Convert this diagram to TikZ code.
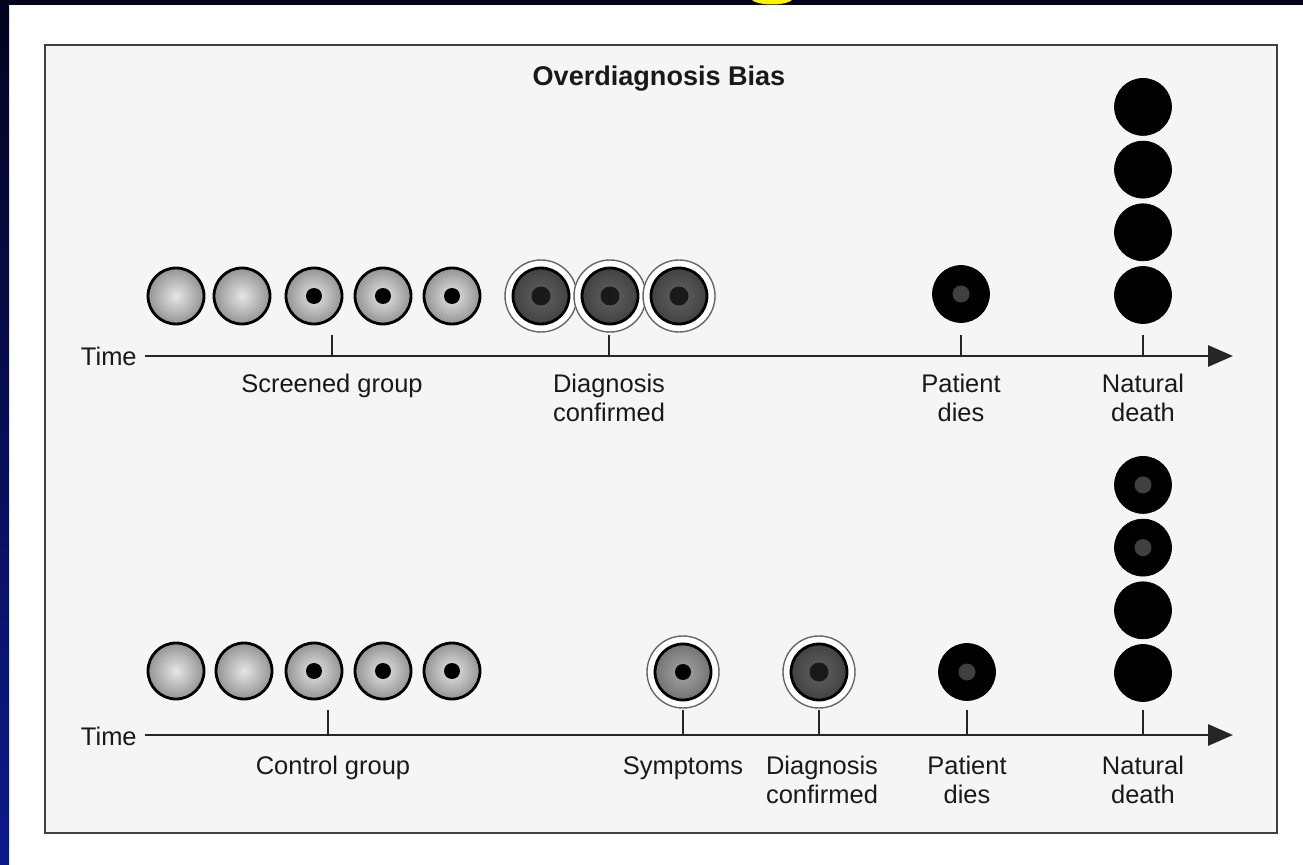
\documentclass[tikz,border=0pt]{standalone}
\usepackage{fontspec}
\setmainfont{Liberation Sans}
\usetikzlibrary{positioning,arrows.meta,backgrounds}

\definecolor{slidenavy}{RGB}{3,3,30}
\definecolor{slideblue}{RGB}{12,26,140}
\definecolor{framefill}{RGB}{245,245,245}
\definecolor{ink}{RGB}{25,25,25}

\begin{document}
\begin{tikzpicture}[
  x=0.02cm, y=-0.02cm,
  font=\fontsize{14.5}{16.5}\selectfont,
  lbl/.style={text=ink, align=center, inner sep=0pt},
  axis/.style={line width=1.7pt, draw=black!85, -{Triangle[length=0.5cm,width=0.42cm]}},
  tick/.style={line width=1.1pt, draw=black!85},
  cell/.style={circle, draw=black, line width=1.6pt, minimum size=1.12cm, inner sep=0pt, inner color=black!10, outer color=black!42},
  nuc/.style={path picture={\fill[black] (path picture bounding box.center) circle (0.16cm);}},
  sick/.style={cell, inner color=black!62, outer color=black!74, path picture={\fill[black!90] (path picture bounding box.center) circle (0.19cm);}},
  sympt/.style={cell, inner color=black!35, outer color=black!55, nuc},
  dead/.style={circle, fill=black, draw=black, minimum size=1.14cm, inner sep=0pt},
  deadnuc/.style={dead, path picture={\fill[black!75] (path picture bounding box.center) circle (0.17cm);}},
  ring/.style={draw=black!60, line width=0.8pt, fill=white},
  frame/.style={draw=black!75, line width=1.1pt, fill=framefill}
]
\useasboundingbox (0,0) rectangle (1303,865);

\node[font=\fontsize{15.4}{18}\selectfont\bfseries, text=ink] (title) at (659,79) {Overdiagnosis Bias};

% screened group
\node[cell] (s1) at (176,296) {};
\node[cell] (s2) at (242,296) {};
\node[cell, nuc] (s3) at (314,296) {};
\node[cell, nuc] (s4) at (383,296) {};
\node[cell, nuc] (s5) at (452,296) {};
\node[sick] (s6) at (541,296) {};
\node[sick] (s7) at (610,296) {};
\node[sick] (s8) at (679,296) {};
\node[deadnuc] (sdie) at (961,294) {};
\node[dead] (sn1) at (1143,295) {};
\node[dead, above=0.1cm of sn1] (sn2) {};
\node[dead, above=0.1cm of sn2] (sn3) {};
\node[dead, above=0.1cm of sn3] (sn4) {};

\node[lbl, anchor=east] (time1) at (137,356) {Time};
\coordinate (a1s) at (145,356);
\coordinate (a1e) at (1233,356);
\draw[axis] (a1s) -- (a1e);
\coordinate (t1) at (332,356);
\coordinate (t2) at (609,356);
\coordinate (t3) at (961,356);
\coordinate (t4) at (1143,356);
\draw[tick] (t1) -- ++(0,-21);
\draw[tick] (t2) -- ++(0,-21);
\draw[tick] (t3) -- ++(0,-21);
\draw[tick] (t4) -- ++(0,-21);
\node[lbl, below=0.36cm of t1] (screened) {Screened group};
\node[lbl, below=0.36cm of t2] (sdx) {Diagnosis\\confirmed};
\node[lbl, below=0.36cm of t3] (sdies) {Patient\\dies};
\node[lbl, below=0.36cm of t4] (snat) {Natural\\death};

% control group
\node[cell] (c1) at (176,671) {};
\node[cell] (c2) at (244,671) {};
\node[cell, nuc] (c3) at (314,671) {};
\node[cell, nuc] (c4) at (383,671) {};
\node[cell, nuc] (c5) at (452,671) {};
\node[sympt] (csym) at (683,672) {};
\node[sick] (cdx) at (819,672) {};
\node[deadnuc] (cdie) at (967,672) {};
\node[dead] (cn1) at (1143,673) {};
\node[dead, above=0.1cm of cn1] (cn2) {};
\node[deadnuc, above=0.1cm of cn2] (cn3) {};
\node[deadnuc, above=0.1cm of cn3] (cn4) {};

\node[lbl, anchor=east] (time2) at (137,736) {Time};
\coordinate (a2s) at (145,735);
\coordinate (a2e) at (1233,735);
\draw[axis] (a2s) -- (a2e);
\coordinate (u1) at (328,735);
\coordinate (u2) at (683,735);
\coordinate (u3) at (819,735);
\coordinate (u4) at (967,735);
\coordinate (u5) at (1143,735);
\draw[tick] (u1) -- ++(0,-25);
\draw[tick] (u2) -- ++(0,-25);
\draw[tick] (u3) -- ++(0,-25);
\draw[tick] (u4) -- ++(0,-25);
\draw[tick] (u5) -- ++(0,-25);
\node[lbl, below=0.42cm of u1, xshift=0.1cm] (control) {Control group};
\node[lbl, below=0.42cm of u2] (csymp) {Symptoms};
\node[lbl, below=0.42cm of u3, xshift=0.06cm] (cdxl) {Diagnosis\\confirmed};
\node[lbl, below=0.42cm of u4] (cdies) {Patient\\dies};
\node[lbl, below=0.42cm of u5] (cnat) {Natural\\death};

\begin{scope}[on background layer]
\fill[white] (0,0) rectangle (1303,865);
\fill[slidenavy] (0,0) rectangle (1303,5);
\shade[top color=slidenavy, bottom color=slideblue] (0,0) rectangle (9,865);
\fill[yellow] (772,-2) ellipse [x radius=21, y radius=6.5];
\draw[frame] (45,45) rectangle (1277,833);
\draw[ring] (s6.center) circle [radius=36];
\draw[ring] (s7.center) circle [radius=36];
\draw[ring] (s8.center) circle [radius=36];
\draw[ring] (csym.center) circle [radius=36];
\draw[ring] (cdx.center) circle [radius=36];
\end{scope}
\end{tikzpicture}
\end{document}
